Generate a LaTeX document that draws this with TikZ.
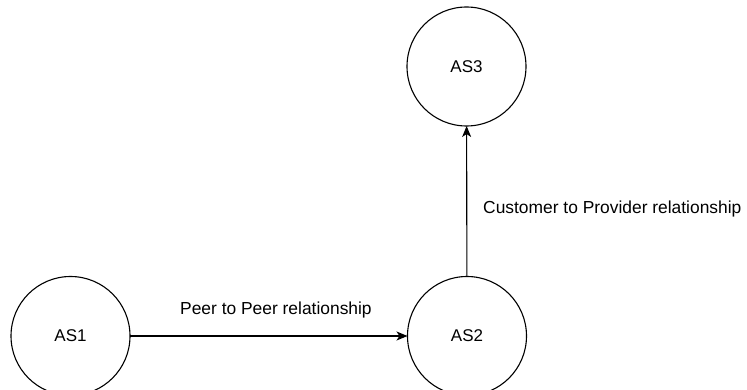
\documentclass[tikz,border=0pt]{standalone}
\usepackage{fontspec}
\setmainfont{Liberation Sans}
\usetikzlibrary{arrows.meta}
\begin{document}
\begin{tikzpicture}[x=1pt,y=-1pt,
  asnode/.style={circle,draw=black,line width=1.1pt,minimum size=119pt,inner sep=0pt,outer sep=0pt,font=\fontsize{17}{20}\selectfont},
  rel/.style={draw=black,line width=1.1pt,-{Stealth[length=11pt,width=9pt,inset=3pt]}},
  lbl/.style={font=\fontsize{17.4}{20}\selectfont,inner sep=0pt,anchor=base west}]
  \useasboundingbox (0,0) rectangle (747,390);
  % autonomous systems
  \node[asnode] (as3) at (466.5,66.5) {AS3};
  \node[asnode] (as1) at (70.5,336) {AS1};
  \node[asnode] (as2) at (467,336) {AS2};
  % relationships
  \draw[rel] (as1) -- (as2);
  \draw[rel] (as2) -- (as3);
  \node[lbl] (peer) at (180,314.5) {Peer to Peer relationship};
  \node[lbl] (cust) at (483,214) {Customer to Provider relationship};
\end{tikzpicture}
\end{document}
